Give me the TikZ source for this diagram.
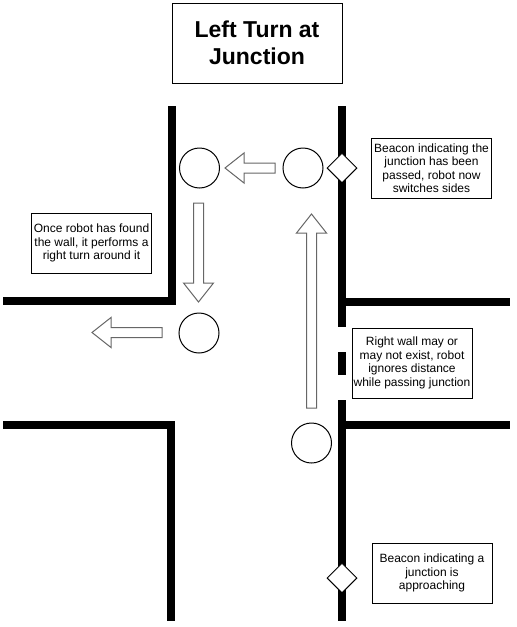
\documentclass[tikz,border=0pt]{standalone}
\usepackage{fontspec}
\setmainfont{Liberation Sans}
\usepackage{tikz}
\usetikzlibrary{shapes,arrows}
\tikzstyle{titlebox} = [rectangle, draw, align=center, inner sep=0pt,
    minimum width=170pt, minimum height=80pt, font=\fontsize{23}{27}\selectfont\bfseries]
\tikzstyle{note} = [rectangle, draw, align=center, inner sep=0pt,
    minimum width=120pt, minimum height=60pt, font=\fontsize{12}{13.5}\selectfont]
\tikzstyle{robot} = [circle, draw, line width=1pt, minimum size=40pt, inner sep=0pt]
\tikzstyle{beacon} = [diamond, draw, fill=white, line width=1pt, minimum size=30pt, inner sep=0pt]
\tikzstyle{wall} = [draw, line width=7.5pt]
\tikzstyle{blk} = [draw=black!60, fill=white, line width=1pt, line join=miter]
% block arrow: tail, direction, length
\newcommand{\blkarrow}[3]{\path [blk, shift={#1}, rotate=#2]
    (0,-5) -- (#3-19,-5) -- (#3-19,-15) -- (#3,0) -- (#3-19,15) -- (#3-19,5) -- (0,5) -- cycle;}

\begin{document}
\begin{tikzpicture}[x=1pt, y=-1pt]
    \useasboundingbox (0,0) rectangle (517,627);

    % Walls
    \path [wall] (3,301) -- (172,301) -- (172,106);
    \path [wall] (3,425) -- (171,425) -- (171,621);
    \path [wall] (342,106) -- (342,327);
    \path [wall] (342,302) -- (510,302);
    \path [wall] (342,352) -- (342,375);
    \path [wall] (342,400) -- (342,621);
    \path [wall] (342,425) -- (510,425);

    % Place nodes
    \node [titlebox] (title) at (257,43) {Left Turn at\\Junction};
    \node [robot] (r1) at (311.5,443) {};
    \node [robot] (r2) at (303,168) {};
    \node [robot] (r3) at (199.5,168) {};
    \node [robot] (r4) at (199,333) {};
    \node [beacon] (b1) at (342,578) {};
    \node [beacon] (b2) at (342,168) {};
    \node [note] (n1) at (431.5,168) {Beacon indicating the\\junction has been\\passed, robot now\\switches sides};
    \node [note] (n2) at (91.5,243) {Once robot has found\\the wall, it performs a\\right turn around it};
    \node [note, minimum height=70pt] (n3) at (412,363) {Right wall may or\\may not exist, robot\\ignores distance\\while passing junction};
    \node [note] (n4) at (432,573) {Beacon indicating a\\junction is\\approaching};

    % Draw arrows
    \blkarrow{(311.5,408)}{90}{194}
    \blkarrow{(275,168)}{180}{50}
    \blkarrow{(198.5,203)}{-90}{99}
    \blkarrow{(162,332.5)}{180}{70}

\end{tikzpicture}
\end{document}
